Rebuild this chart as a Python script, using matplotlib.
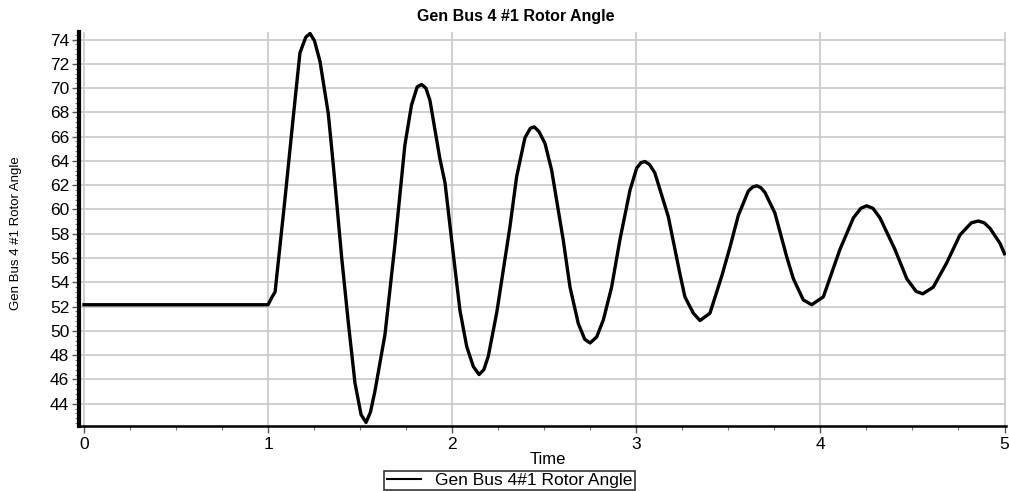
import matplotlib.pyplot as plt
from matplotlib.ticker import MultipleLocator, AutoMinorLocator

plt.rcParams['font.family'] = ['Liberation Sans', 'DejaVu Sans']

# values
time = [0.0, 1.0, 1.022, 1.038, 1.092, 1.136, 1.173, 1.205, 1.228, 1.252, 1.282,
        1.327, 1.354, 1.4, 1.435, 1.472, 1.505, 1.532, 1.556, 1.58, 1.635,
        1.689, 1.743, 1.779, 1.81, 1.834, 1.857, 1.879, 1.933, 1.961, 1.997,
        2.042, 2.079, 2.115, 2.146, 2.172, 2.196, 2.242, 2.314, 2.350, 2.395,
        2.425, 2.446, 2.472, 2.504, 2.540, 2.603, 2.640, 2.685, 2.72, 2.749,
        2.785, 2.821, 2.866, 2.911, 2.966, 3.002, 3.025, 3.047, 3.072, 3.101,
        3.174, 3.237, 3.264, 3.310, 3.346, 3.400, 3.464, 3.509, 3.554, 3.608,
        3.632, 3.654, 3.676, 3.699, 3.753, 3.817, 3.853, 3.907, 3.953, 4.016,
        4.106, 4.179, 4.22, 4.251, 4.285, 4.324, 4.405, 4.469, 4.52, 4.556,
        4.613, 4.686, 4.758, 4.82, 4.858, 4.89, 4.921, 4.976, 5.0]
angle = [52.15, 52.15, 52.8, 53.2, 60.9, 67.5, 72.9, 74.2, 74.5, 73.9, 72.2,
         67.9, 63.7, 56.0, 50.8, 45.7, 43.1, 42.45, 43.3, 45.0, 49.7,
         57.1, 65.3, 68.6, 70.1, 70.3, 70.0, 69.0, 64.2, 62.2, 57.5,
         51.7, 48.7, 47.05, 46.4, 46.8, 47.9, 51.5, 58.6, 62.7, 65.9,
         66.7, 66.8, 66.4, 65.45, 63.25, 57.5, 53.6, 50.6, 49.3, 49.0,
         49.5, 50.9, 53.6, 57.5, 61.6, 63.4, 63.85, 63.95, 63.7, 63.0,
         59.4, 54.7, 52.8, 51.45, 50.85, 51.45, 54.5, 56.9, 59.5, 61.5,
         61.85, 61.95, 61.8, 61.4, 59.7, 56.1, 54.3, 52.55, 52.15, 52.8,
         56.7, 59.3, 60.1, 60.3, 60.1, 59.3, 56.7, 54.3, 53.25, 53.05,
         53.6, 55.6, 57.9, 58.9, 59.05, 58.9, 58.45, 57.2, 56.35]

fig = plt.figure(figsize=(10.09, 4.91), dpi=100)
ax = fig.add_axes([0.0783, 0.1324, 0.9187, 0.8024])

line, = ax.plot(time, angle, color='black', lw=2.4, label='Gen Bus 4#1 Rotor Angle',
                solid_joinstyle='round')

ax.set_xlim(-0.027, 5.008)
ax.set_ylim(42.16, 74.62)
ax.xaxis.set_major_locator(MultipleLocator(1))
ax.xaxis.set_minor_locator(AutoMinorLocator(4))
ax.yaxis.set_minor_locator(AutoMinorLocator(5))
ax.set_yticks(range(44, 75, 2))

ax.grid(True, which='major', color='#c8c8c8', lw=1.2)
ax.set_axisbelow(True)
for s in ['top', 'right']:
    ax.spines[s].set_visible(False)
ax.spines['left'].set_linewidth(3)
ax.spines['bottom'].set_linewidth(1.8)

ax.tick_params(axis='both', which='major', length=5, width=1, color='#555555',
               labelsize=12.5, pad=2)
ax.tick_params(axis='x', which='major', pad=3)
ax.tick_params(axis='both', which='minor', length=3, width=0.8, color='#777777')

fig.text(0.511, 0.967, 'Gen Bus 4 #1 Rotor Angle', fontsize=11.5, fontweight='bold',
         ha='center', va='center')
ax.set_xlabel('Time', fontsize=12)
ax.xaxis.set_label_coords(0.506, -0.065)
ax.set_ylabel('Gen Bus 4 #1 Rotor Angle', fontsize=9.5)
ax.yaxis.set_label_coords(-0.062, 0.49)

leg = fig.legend(handles=[line], loc='upper center', bbox_to_anchor=(0.505, 0.041),
                 frameon=True, fancybox=False, fontsize=12.5, handlelength=2.0,
                 borderpad=0.12, borderaxespad=0)
leg.get_frame().set_edgecolor('black')
leg.get_frame().set_linewidth(1.2)
leg.get_lines()[0].set_linewidth(1.5)

fig.savefig('out.png', dpi=100)
